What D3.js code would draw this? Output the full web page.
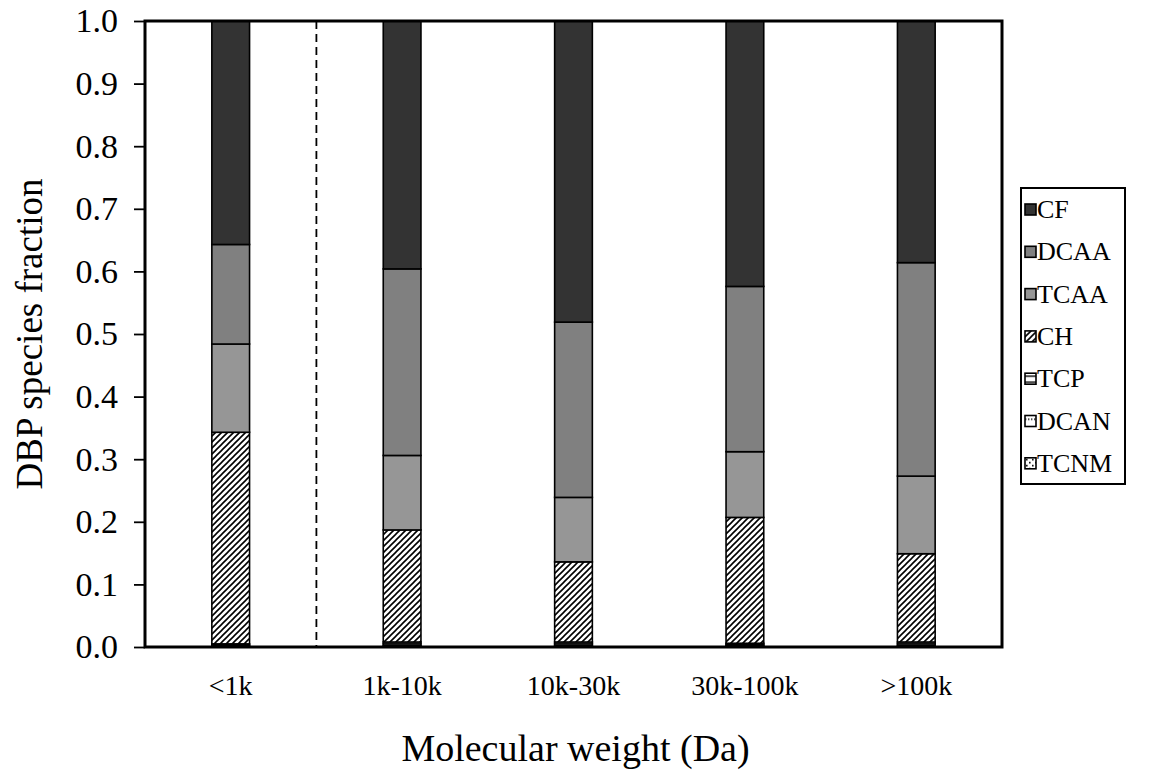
<!DOCTYPE html>
<html lang="en">
<head>
<meta charset="UTF-8">
<title>DBP species fraction</title>
<script src="https://cdn.jsdelivr.net/npm/d3@7"></script>
<style>
  body { margin: 0; background: #fff; }
  text { font-family: "Liberation Serif", "Times New Roman", serif; fill: #000; }
</style>
</head>
<body>
<div id="chart"></div>
<script>
// categories and series (stack order bottom -> top)
var categories = ["<1k", "1k-10k", "10k-30k", "30k-100k", ">100k"];
var seriesNames = ["TCNM", "DCAN", "TCP", "CH", "TCAA", "DCAA", "CF"];
var TCNM = [0.001, 0.002, 0.002, 0.002, 0.002];
var DCAN = [0.002, 0.003, 0.003, 0.002, 0.003];
var TCP  = [0.002, 0.003, 0.003, 0.002, 0.003];
var CH   = [0.338, 0.179, 0.128, 0.201, 0.141];
var TCAA = [0.141, 0.119, 0.103, 0.105, 0.124];
var DCAA = [0.159, 0.298, 0.280, 0.264, 0.341];
var CF   = [0.357, 0.396, 0.481, 0.424, 0.386];
var yTicks = [0, 0.1, 0.2, 0.3, 0.4, 0.5, 0.6, 0.7, 0.8, 0.9, 1.0];
var legendOrder = ["CF", "DCAA", "TCAA", "CH", "TCP", "DCAN", "TCNM"];

var width = 1150, height = 775;
var plot = {left: 145, right: 1002, top: 21, bottom: 647};

var svg = d3.select("#chart").append("svg")
    .attr("width", width)
    .attr("height", height);

// fill patterns
var defs = svg.append("defs");
var hatch = defs.append("pattern").attr("id", "p-CH")
    .attr("patternUnits", "userSpaceOnUse").attr("width", 6).attr("height", 6);
hatch.append("rect").attr("width", 6).attr("height", 6).attr("fill", "#fff");
hatch.append("path").attr("d", "M-1,1 l2,-2 M0,6 l6,-6 M5,7 l2,-2")
    .attr("stroke", "#000").attr("stroke-width", 1.6);

var hor = defs.append("pattern").attr("id", "p-TCP")
    .attr("patternUnits", "userSpaceOnUse").attr("width", 8).attr("height", 6);
hor.append("rect").attr("width", 8).attr("height", 6).attr("fill", "#fff");
hor.append("line").attr("x1", 0).attr("x2", 8).attr("y1", 3).attr("y2", 3)
    .attr("stroke", "#000").attr("stroke-width", 1.4);

var dots = defs.append("pattern").attr("id", "p-DCAN")
    .attr("patternUnits", "userSpaceOnUse").attr("width", 3).attr("height", 8);
dots.append("rect").attr("width", 3).attr("height", 8).attr("fill", "#fff");
dots.append("rect").attr("x", 0).attr("y", 5).attr("width", 1.4).attr("height", 1.4).attr("fill", "#000");

var sdots = defs.append("pattern").attr("id", "p-TCNM")
    .attr("patternUnits", "userSpaceOnUse").attr("width", 6).attr("height", 6);
sdots.append("rect").attr("width", 6).attr("height", 6).attr("fill", "#fff");
sdots.append("rect").attr("x", 1).attr("y", 1).attr("width", 1.6).attr("height", 1.6).attr("fill", "#000");
sdots.append("rect").attr("x", 4).attr("y", 4).attr("width", 1.6).attr("height", 1.6).attr("fill", "#000");

var fills = {
    CF: "#333333", DCAA: "#808080", TCAA: "#969696",
    CH: "url(#p-CH)", TCP: "url(#p-TCP)", DCAN: "url(#p-DCAN)", TCNM: "url(#p-TCNM)"
};

// scales
var xScale = d3.scaleBand()
    .domain(categories)
    .range([plot.left, plot.right])
    .paddingInner(0.78).paddingOuter(0.39);
var yScale = d3.scaleLinear()
    .domain([0, 1.0])
    .range([plot.bottom, plot.top]);

// stack
var rows = categories.map(function (c, i) {
    return {cat: c, TCNM: TCNM[i], DCAN: DCAN[i], TCP: TCP[i], CH: CH[i],
            TCAA: TCAA[i], DCAA: DCAA[i], CF: CF[i]};
});
var stacked = d3.stack().keys(seriesNames)(rows);

// bars
svg.append("g").selectAll("g")
    .data(stacked)
    .enter().append("g")
    .attr("fill", function (d) { return fills[d.key]; })
    .selectAll("rect")
    .data(function (d) { return d; })
    .enter().append("rect")
    .attr("x", function (d) { return xScale(d.data.cat); })
    .attr("y", function (d) { return yScale(d[1]); })
    .attr("width", xScale.bandwidth())
    .attr("height", function (d) { return yScale(d[0]) - yScale(d[1]); })
    .attr("stroke", "#000")
    .attr("stroke-width", 1.6);

// dashed separator after first group
var sepX = plot.left + (plot.right - plot.left) / categories.length;
svg.append("line")
    .attr("x1", sepX).attr("x2", sepX)
    .attr("y1", plot.top).attr("y2", plot.bottom)
    .attr("stroke", "#000").attr("stroke-width", 1.8)
    .attr("stroke-dasharray", "8,5");

// frame
svg.append("rect")
    .attr("x", plot.left).attr("y", plot.top)
    .attr("width", plot.right - plot.left).attr("height", plot.bottom - plot.top)
    .attr("fill", "none").attr("stroke", "#000").attr("stroke-width", 3);

// y axis
var yAxis = d3.axisLeft(yScale)
    .tickValues(yTicks)
    .tickFormat(d3.format(".1f"))
    .tickSize(11)
    .tickPadding(16);
var gy = svg.append("g")
    .attr("transform", "translate(" + plot.left + ",0)")
    .call(yAxis);
gy.select(".domain").remove();
gy.selectAll(".tick line").attr("stroke", "#000").attr("stroke-width", 1.8);
gy.selectAll(".tick text")
    .style("font-family", "'Liberation Serif', serif")
    .style("font-size", "34px");

// x axis labels
var xAxis = d3.axisBottom(xScale).tickSize(0).tickPadding(28);
var gx = svg.append("g")
    .attr("transform", "translate(0," + plot.bottom + ")")
    .call(xAxis);
gx.select(".domain").remove();
gx.selectAll(".tick text")
    .style("font-family", "'Liberation Serif', serif")
    .style("font-size", "28px");

// axis titles
svg.append("text")
    .attr("x", (plot.left + plot.right) / 2 + 2)
    .attr("y", 761)
    .attr("text-anchor", "middle")
    .style("font-size", "38px")
    .text("Molecular weight (Da)");
svg.append("text")
    .attr("transform", "translate(42," + ((plot.top + plot.bottom) / 2) + ") rotate(-90)")
    .attr("text-anchor", "middle")
    .style("font-size", "37px")
    .text("DBP species fraction");

// legend
var legend = svg.append("g");
legend.append("rect")
    .attr("x", 1021).attr("y", 188)
    .attr("width", 104).attr("height", 296)
    .attr("fill", "#fff").attr("stroke", "#000").attr("stroke-width", 2);
var item = legend.selectAll("g.item")
    .data(legendOrder)
    .enter().append("g")
    .attr("class", "item")
    .attr("transform", function (d, i) { return "translate(1025," + (210 + i * 42.3) + ")"; });
item.append("rect")
    .attr("x", 0).attr("y", -6)
    .attr("width", 11).attr("height", 11)
    .attr("fill", function (d) { return fills[d]; })
    .attr("stroke", "#000").attr("stroke-width", 1.6);
item.append("text")
    .attr("x", 12).attr("y", 8)
    .style("font-size", "26px")
    .text(function (d) { return d; });
</script>
</body>
</html>
